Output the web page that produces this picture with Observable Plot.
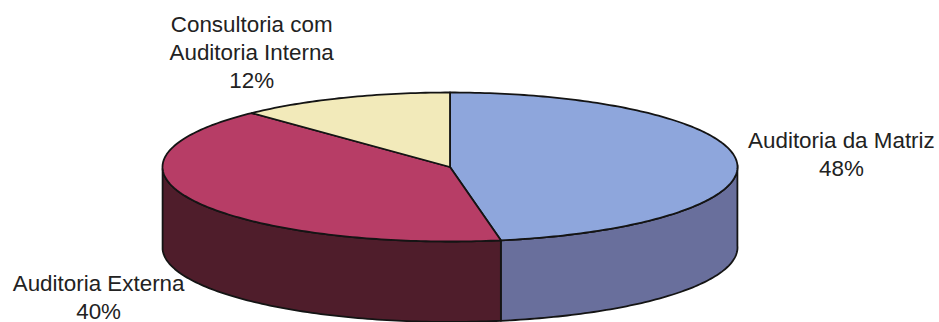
<!DOCTYPE html>
<html lang="pt">
<head>
<meta charset="utf-8">
<script src="https://cdn.jsdelivr.net/npm/d3@7"></script>
<script src="https://cdn.jsdelivr.net/npm/@observablehq/plot@0.6"></script>
<style>
  html, body { margin: 0; padding: 0; background: #fff; }
  svg { display: block; }
</style>
</head>
<body>
<div id="chart"></div>
<script>
// Shares of audit work by source, clockwise from the top of the disc.
const categories = ["Auditoria da Matriz", "Auditoria Externa", "Consultoria com\nAuditoria Interna"];
const shares = [48, 40, 12];

const topColors = ["#8ea6dc", "#b73d66", "#f2eaba"];
const sideColors = ["#696f9c", "#4f1d2b", "#a8a27f"];
const labelOffsets = [[105, -7], [-96, 95], [-92, -47]];

// Disc depth in units of the vertical radius.
const depth = 1.08;
// Degrees by which perspective widens the front of the disc.
const frontWidening = 3;

const warp = (deg) => deg - frontWidening * Math.sin((deg / 2) * Math.PI / 180) ** 2;
const rim = (deg, drop = 0) => {
  const a = warp(deg) * Math.PI / 180;
  return {x: Math.sin(a), y: Math.cos(a) - drop};
};
const arc = (from, to, drop = 0) => {
  const steps = Math.max(1, Math.ceil(to - from));
  return d3.range(steps + 1).map((i) => rim(from + (to - from) * i / steps, drop));
};

const total = d3.sum(shares);
let running = 0;
const slices = categories.map((name, i) => {
  const start = running * 360 / total;
  running += shares[i];
  return {name, share: shares[i], start, end: running * 360 / total, i};
});

// Top faces run from the centre along the rim; side faces exist only on the front half.
const topFaces = slices.flatMap((s) =>
  [{x: 0, y: 0}, ...arc(s.start, s.end)].map((p) => ({...p, name: s.name}))
);
const sideFaces = slices.flatMap((s) => {
  const from = Math.max(s.start, 90);
  const to = Math.min(s.end, 270);
  if (to <= from) return [];
  return [...arc(from, to), ...arc(from, to, depth).reverse()].map((p) => ({...p, name: s.name}));
});

const outline = {stroke: "#141414", strokeWidth: 1.8, strokeLinejoin: "round", curve: "linear-closed"};

const labelMarks = slices.map((s) => {
  const anchor = rim((s.start + s.end) / 2);
  return Plot.text([s], {
    x: () => anchor.x,
    y: () => anchor.y,
    text: (d) => `${d.name}\n${d.share}%`,
    dx: labelOffsets[s.i][0],
    dy: labelOffsets[s.i][1],
    fontSize: 22.4,
    lineHeight: 1.25,
    fill: "#222",
    fontFamily: "'Liberation Sans', Arial, sans-serif",
    textAnchor: "middle"
  });
});

const chart = Plot.plot({
  width: 939,
  height: 322,
  margin: 0,
  style: {background: "#fff"},
  x: {domain: [-1, 1], range: [162, 737], axis: null},
  y: {domain: [-1, 1], range: [241, 92], axis: null},
  marks: [
    Plot.line(sideFaces, {x: "x", y: "y", z: "name", fill: (d) => sideColors[categories.indexOf(d.name)], ...outline}),
    Plot.line(topFaces, {x: "x", y: "y", z: "name", fill: (d) => topColors[categories.indexOf(d.name)], ...outline}),
    ...labelMarks
  ]
});
document.getElementById("chart").append(chart);
</script>
</body>
</html>
